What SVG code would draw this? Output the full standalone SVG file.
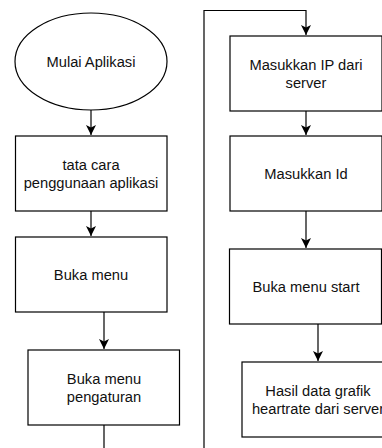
<svg xmlns="http://www.w3.org/2000/svg" width="382" height="448" viewBox="0 0 382 448">
<style>
.shape{fill:#ffffff;stroke:#000000;stroke-width:1.2}
.edge{fill:none;stroke:#000000;stroke-width:1.2}
text{font-family:"Liberation Sans",Arial,sans-serif;font-size:14.7px;fill:#111111;text-anchor:middle}
</style>
<defs>
<marker id="arr" markerUnits="userSpaceOnUse" markerWidth="12" markerHeight="12" refX="10" refY="5" orient="auto" viewBox="0 0 12 10">
<path d="M0,0 L10,5 L0,10 L2.5,5 z" fill="#000000"/>
</marker>
</defs>
<rect width="382" height="448" fill="#ffffff"/>
<g id="connectors">
<path class="edge" d="M91,110 V135" marker-end="url(#arr)"/>
<path class="edge" d="M91,211 V236" marker-end="url(#arr)"/>
<path class="edge" d="M104,312 V349" marker-end="url(#arr)"/>
<path class="edge" d="M104,425 V470 H204 V10.5 H306 V35" marker-end="url(#arr)"/>
<path class="edge" d="M306,111 V135" marker-end="url(#arr)"/>
<path class="edge" d="M306,211 V248" marker-end="url(#arr)"/>
<path class="edge" d="M318,324 V361" marker-end="url(#arr)"/>
</g>
<g id="n_mulai">
<ellipse class="shape" cx="91" cy="61.5" rx="76" ry="48.5"/>
<text x="91" y="67">Mulai Aplikasi</text>
</g>
<g id="n_tatacara">
<rect class="shape" x="15.5" y="136" width="151.5" height="75"/>
<text x="91" y="170">tata cara</text>
<text x="91" y="188">penggunaan aplikasi</text>
</g>
<g id="n_bukamenu">
<rect class="shape" x="15.5" y="237" width="151.5" height="75"/>
<text x="91" y="280">Buka menu</text>
</g>
<g id="n_pengaturan">
<rect class="shape" x="28" y="350" width="151.5" height="75"/>
<text x="104" y="384">Buka menu</text>
<text x="104" y="402">pengaturan</text>
</g>
<g id="n_ip">
<rect class="shape" x="230" y="36" width="152" height="75"/>
<text x="306" y="70">Masukkan IP dari</text>
<text x="306" y="88">server</text>
</g>
<g id="n_id">
<rect class="shape" x="230" y="136" width="152" height="75"/>
<text x="306" y="179">Masukkan Id</text>
</g>
<g id="n_start">
<rect class="shape" x="229.5" y="249" width="152" height="75"/>
<text x="306" y="292">Buka menu start</text>
</g>
<g id="n_hasil">
<rect class="shape" x="242" y="362" width="152" height="75"/>
<text x="318" y="396">Hasil data grafik</text>
<text x="318" y="414">heartrate dari server</text>
</g>
</svg>
